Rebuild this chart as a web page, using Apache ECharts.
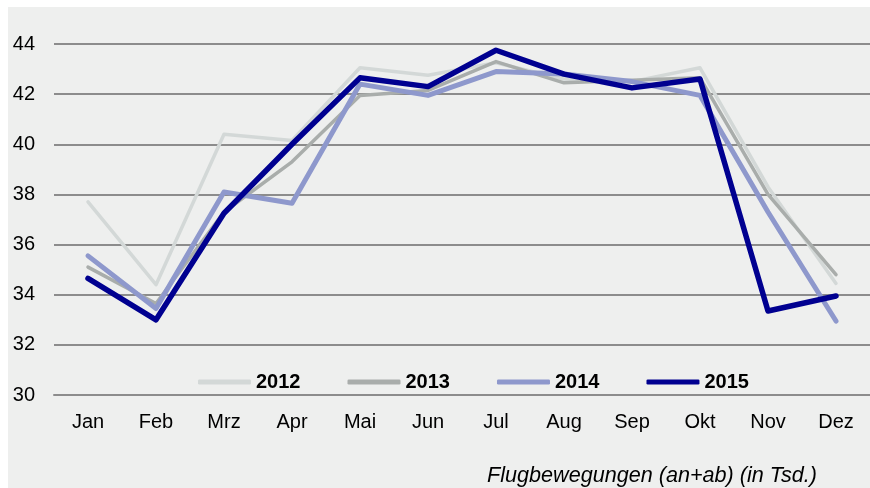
<!DOCTYPE html>
<html>
<head>
<meta charset="utf-8">
<script src="https://cdn.jsdelivr.net/npm/echarts@6/dist/echarts.min.js"></script>
<style>
  html, body { margin: 0; padding: 0; background: #fff; }
  #chart { position: absolute; left: 8px; top: 7px; width: 862px; height: 481px; }
</style>
</head>
<body>
<div id="chart"></div>
<script>
const months = ["Jan", "Feb", "Mrz", "Apr", "Mai", "Jun", "Jul", "Aug", "Sep", "Okt", "Nov", "Dez"];
const years = ["2012", "2013", "2014", "2015"];
const y2012 = [37.7, 34.4, 40.4, 40.15, 43.05, 42.75, 43.25, 42.6, 42.5, 43.05, 38.3, 34.45];
const y2013 = [35.1, 33.65, 37.3, 39.3, 41.95, 42.15, 43.3, 42.45, 42.55, 42.65, 38.0, 34.8];
const y2014 = [35.55, 33.45, 38.1, 37.65, 42.4, 41.95, 42.9, 42.8, 42.5, 41.95, 37.3, 32.95];
const y2015 = [34.65, 33.0, 37.25, 40.0, 42.65, 42.3, 43.75, 42.8, 42.25, 42.6, 33.35, 33.95];
const subtitle = "Flugbewegungen (an+ab) (in Tsd.)";

const font = "Liberation Sans, Arial, sans-serif";
const chart = echarts.init(document.getElementById("chart"));

// one entry per year: colour and line width
const looks = [
  { color: "#d3d8d7", width: 3.5 },
  { color: "#a9adab", width: 3.5 },
  { color: "#8e98cc", width: 5 },
  { color: "#000090", width: 5.5 },
];
const values = [y2012, y2013, y2014, y2015];

chart.setOption({
  backgroundColor: "#eeefee",
  animation: false,
  title: {
    text: subtitle,
    right: 48,
    top: 453,
    textStyle: { fontFamily: font, fontSize: 21.6, fontStyle: "italic", fontWeight: "normal", color: "#000" },
  },
  legend: {
    data: years.map((y) => ({ name: y, icon: "roundRect" })),
    left: 185,
    top: 360,
    itemWidth: 53,
    itemHeight: 5,
    itemGap: 47,
    textStyle: { fontFamily: font, fontSize: 20, fontWeight: "bold", color: "#000" },
  },
  grid: { left: 46, top: 37, width: 820, bottom: 93 },
  xAxis: {
    type: "category",
    data: months,
    boundaryGap: true,
    axisTick: { show: false },
    axisLine: { lineStyle: { color: "#8c8c8c", width: 2 } },
    axisLabel: { fontFamily: font, fontSize: 20, color: "#000", margin: 17 },
  },
  yAxis: {
    type: "value",
    min: 30,
    max: 44,
    interval: 2,
    axisLine: { show: false },
    axisTick: { show: false },
    axisLabel: { fontFamily: font, fontSize: 20, color: "#000", margin: 19 },
    splitLine: { lineStyle: { color: "#8c8c8c", width: 2 } },
  },
  series: years.map((y, i) => ({
    name: y,
    type: "line",
    data: values[i],
    symbol: "none",
    lineStyle: { color: looks[i].color, width: looks[i].width, cap: "round", join: "round" },
    itemStyle: { color: looks[i].color },
  })),
});
</script>
</body>
</html>
